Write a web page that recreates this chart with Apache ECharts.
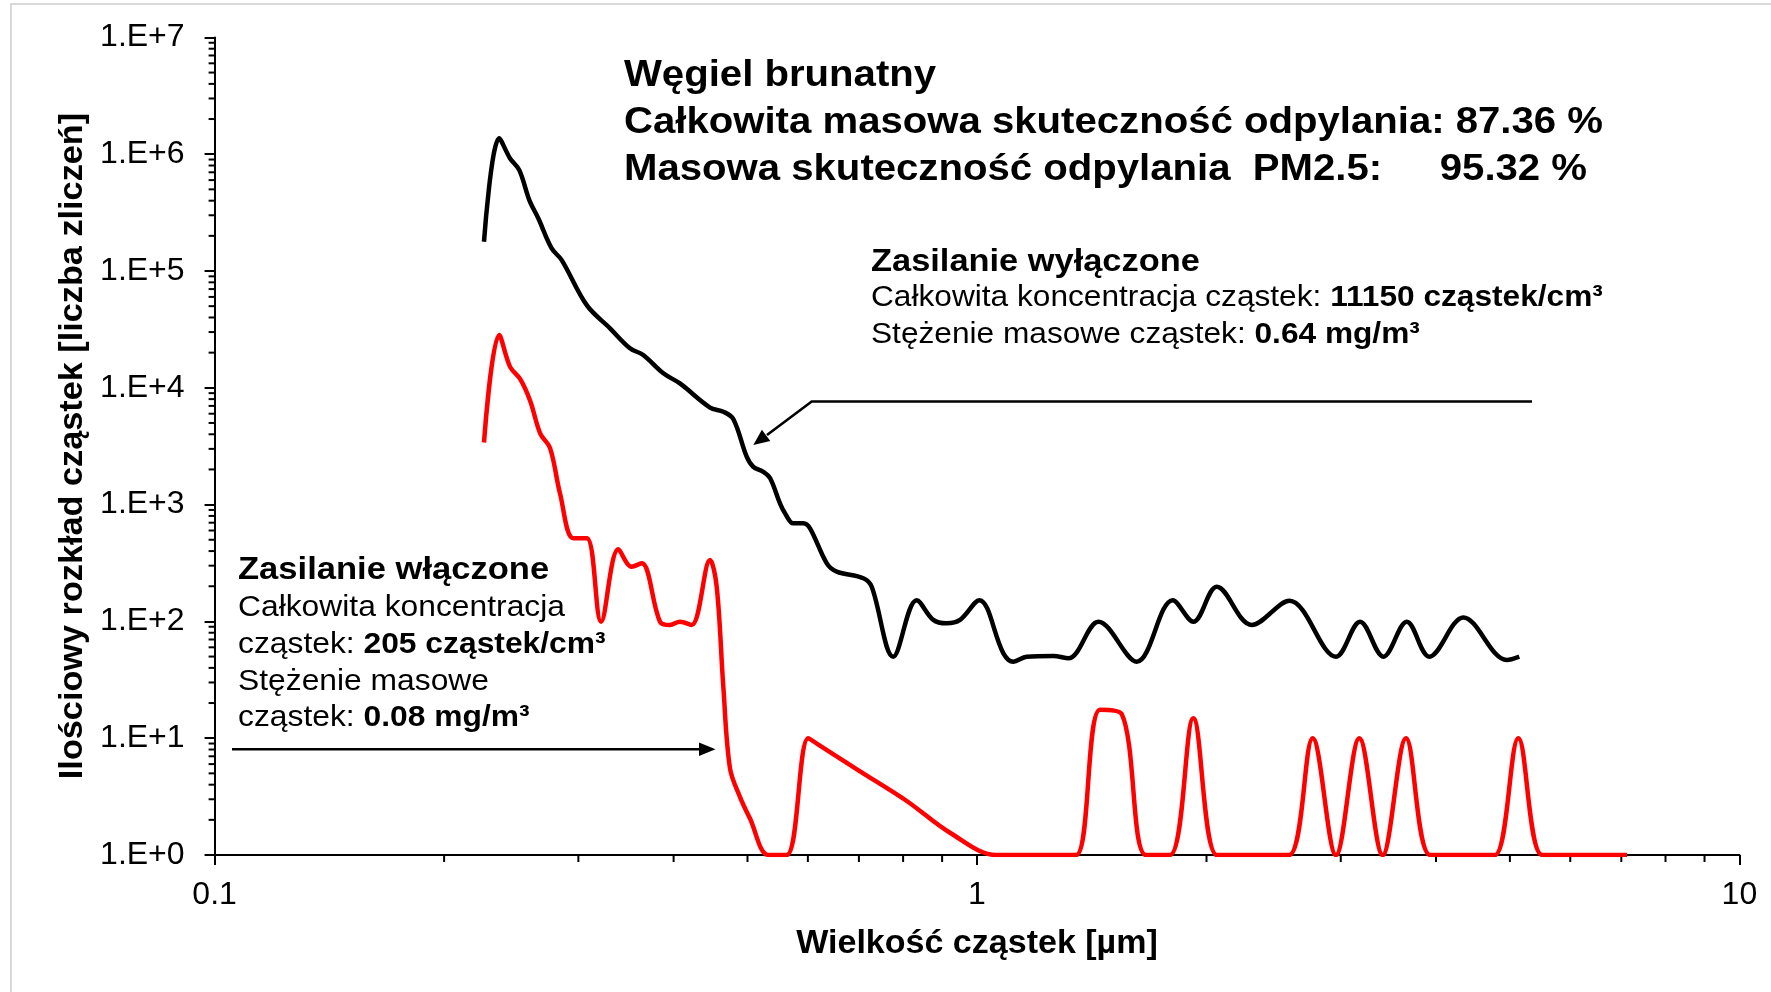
<!DOCTYPE html>
<html><head><meta charset="utf-8">
<script src="https://cdn.jsdelivr.net/npm/echarts@6/dist/echarts.min.js"></script>
<style>html,body{margin:0;padding:0;background:#fff}#c{width:1771px;height:992px}</style>
</head><body><div id="c"></div>
<script>
// ---- data ----
const blackSize = [0.2256,0.2362,0.2441,0.2510,0.2587,0.2658,0.2768,0.2853,0.3077,0.3301,0.3506,0.3649,0.3878,0.4077,0.4465,0.4648,0.4790,0.4988,0.5087,0.5244,0.5354,0.5515,0.5600,0.5741,0.5917,0.6039,0.6353,0.6546,0.7094,0.7276,0.7765,0.8335,0.8763,0.9127,0.9499,1.007,1.083,1.116,1.162,1.259,1.318,1.443,1.620,1.806,1.922,2.063,2.293,2.569,2.957,3.180,3.412,3.662,3.920,4.344,4.953,5.144];
const blackCount = [1.78e5,1.37e6,9.2e5,7.3e5,4.05e5,2.83e5,1.56e5,1.24e5,5.1e4,3.23e4,2.18e4,1.91e4,1.33e4,1.09e4,6780,6240,5410,2570,2110,1910,1680,1026,843,692,692,627,314,267,234,198,49.9,152,103,96.3,103,152,53.3,45.2,49.9,50.6,48.3,99.4,45.2,152,99.4,198,93.1,150,49.9,99.4,49.9,99.4,49.9,108,46.7,49.9];
const redSize = [0.2256,0.2362,0.2441,0.2516,0.2594,0.2673,0.2755,0.2838,0.2955,0.3078,0.3213,0.3385,0.3524,0.3633,0.3839,0.3957,0.4077,0.4224,0.4465,0.4556,0.4648,0.4743,0.4887,0.5036,0.5326,0.5628,0.6008,0.6200,0.7024,0.8088,0.9217,1.061,1.156,1.259,1.349,1.450,1.549,1.666,1.791,1.922,2.064,2.213,2.372,2.566,2.756,2.957,3.173,3.405,3.654,3.929,4.211,4.513,4.779,5.129,5.510,5.906,6.368,7.122];
const redCount = [3400,2.83e4,1.51e4,1.19e4,7710,4080,3030,1250,515,515,99.4,414,294,314,99.4,93.1,99.4,93.1,335,198,27.6,5.5,3.15,2.06,1,1,10,8.76,5.2,2.9,1.55,1,1,1,1,17.5,16,1,1,14.8,1,1,1,1,10,1,10,1,10,1,1,1,1,10,1,1,1,1];
const xTickLabels = ['0.1','1','10'];
const yTickLabels = ['1.E+0','1.E+1','1.E+2','1.E+3','1.E+4','1.E+5','1.E+6','1.E+7'];
const xMinorTicks = [0.2,0.3,0.4,0.5,0.6,0.7,0.8,0.9,2,3,4,5,6,7,8,9];
const yMinorMantissa = [2,3,4,5,6,7,8,9];
const yMinorTicks = [];
for (let e = 0; e < 7; e++) yMinorMantissa.forEach(m => yMinorTicks.push(m * Math.pow(10, e)));

const FF = '"Liberation Sans", Arial, sans-serif';
const chart = echarts.init(document.getElementById('c'), null, {renderer: 'canvas'});

function txt(x, y, text, size, bold, sx, align, rot) {
  return {type: 'text', x: x, y: y, scaleX: sx || 1, rotation: rot || 0, silent: true, z: 10,
    style: {text: text, fill: '#000', fontSize: size, fontWeight: bold ? 'bold' : 'normal', fontFamily: FF,
      align: align || 'left', verticalAlign: 'middle'}};
}
function rtxt(x, y, text, size, sx) {
  return {type: 'text', x: x, y: y, scaleX: sx, silent: true, z: 10,
    style: {text: text, fill: '#000', fontSize: size, fontFamily: FF, align: 'left', verticalAlign: 'middle',
      rich: {n: {fontSize: size, fontFamily: FF, fontWeight: 'normal', fill: '#000'},
             b: {fontSize: size, fontFamily: FF, fontWeight: 'bold', fill: '#000'}}}};
}

const tickRender = (dx, dy) => (params, api) => {
  const p = api.coord([api.value(0), api.value(1)]);
  return {type: 'line', shape: {x1: p[0], y1: p[1], x2: p[0] + dx, y2: p[1] + dy},
    style: {stroke: '#000', lineWidth: 2}};
};

const option = {
  animation: false,
  backgroundColor: '#fff',
  grid: {left: 214.6, right: 31.6, top: 37.4, bottom: 137, containLabel: false, outerBoundsMode: 'none'},
  xAxis: {
    type: 'log', logBase: 10, min: 0.1, max: 10, splitNumber: 2,
    axisLine: {show: true, onZero: false, lineStyle: {color: '#000', width: 2}},
    axisTick: {show: true, length: 10, inside: false, lineStyle: {color: '#000', width: 2}},
    minorTick: {show: false},
    splitLine: {show: false},
    axisLabel: {color: '#000', fontSize: 32, fontFamily: FF, margin: 24,
      formatter: v => xTickLabels[Math.round(Math.log10(v)) + 1]}
  },
  yAxis: {
    type: 'log', logBase: 10, min: 1, max: 1e7, splitNumber: 7,
    axisLine: {show: true, lineStyle: {color: '#000', width: 2}},
    axisTick: {show: true, length: 10, inside: false, lineStyle: {color: '#000', width: 2}},
    minorTick: {show: false},
    splitLine: {show: false},
    axisLabel: {color: '#000', fontSize: 32, fontFamily: FF, margin: 30,
      formatter: v => yTickLabels[Math.round(Math.log10(v))]}
  },
  series: [
    {type: 'custom', coordinateSystem: 'cartesian2d', silent: true, clip: false, z: 1,
      data: xMinorTicks.map(v => [v, 1]), renderItem: tickRender(0, 7)},
    {type: 'custom', coordinateSystem: 'cartesian2d', silent: true, clip: false, z: 1,
      data: yMinorTicks.map(v => [0.1, v]), renderItem: tickRender(-6, 0)},
    {type: 'line', name: 'Zasilanie wyłączone', data: blackSize.map((s, i) => [s, blackCount[i]]),
      smooth: 0.35, symbol: 'none', lineStyle: {color: '#000', width: 4.5}, z: 3},
    {type: 'line', name: 'Zasilanie włączone', data: redSize.map((s, i) => [s, redCount[i]]),
      smooth: 0.35, symbol: 'none', lineStyle: {color: '#ff0000', width: 4.5}, z: 4}
  ],
  graphic: [
    {type: 'polyline', silent: true, z: 0, shape: {points: [[11, 1000], [11, 4], [1780, 4]]},
      style: {stroke: '#d9d9d9', lineWidth: 2, fill: null}},
    // axis titles
    txt(977, 943.7, 'Wielkość cząstek [µm]', 32.5, true, 1.047, 'center'),
    txt(73, 446, 'Ilościowy rozkład cząstek [liczba zliczeń]', 32.5, true, 1.054, 'center', Math.PI / 2),
    // top block
    txt(624, 76, 'Węgiel brunatny', 37.5, true, 1.07),
    txt(624, 123, 'Całkowita masowa skuteczność odpylania: 87.36 %', 37.5, true, 1.07),
    txt(624, 170, 'Masowa skuteczność odpylania  PM2.5:', 37.5, true, 1.07),
    txt(1587, 170, '95.32 %', 37.5, true, 1.07, 'right'),
    // right annotation
    txt(871, 262.2, 'Zasilanie wyłączone', 32, true, 1.075),
    rtxt(871, 297.9, '{n|Całkowita koncentracja cząstek: }{b|11150 cząstek/cm³}', 30, 1.055),
    rtxt(871, 334.6, '{n|Stężenie masowe cząstek: }{b|0.64 mg/m³}', 30, 1.055),
    // left annotation
    txt(238, 570.6, 'Zasilanie włączone', 32, true, 1.08),
    txt(238, 607.9, 'Całkowita koncentracja', 30, false, 1.06),
    rtxt(238, 644.6, '{n|cząstek: }{b|205 cząstek/cm³}', 30, 1.06),
    txt(238, 681.3, 'Stężenie masowe', 30, false, 1.06),
    rtxt(238, 717.9, '{n|cząstek: }{b|0.08 mg/m³}', 30, 1.06),
    // arrows
    {type: 'polyline', silent: true, z: 10, shape: {points: [[232, 749.3], [703, 749.3]]},
      style: {stroke: '#000', lineWidth: 2.6, fill: null}},
    {type: 'polygon', silent: true, z: 10, shape: {points: [[715.5, 749.3], [699, 742.5], [699, 756.1]]},
      style: {fill: '#000'}},
    {type: 'polyline', silent: true, z: 10, shape: {points: [[1532, 401.5], [811.7, 401.5], [767, 435]]},
      style: {stroke: '#000', lineWidth: 2.6, fill: null, lineJoin: 'miter'}},
    {type: 'polygon', silent: true, z: 10, shape: {points: [[753.3, 445], [770.3, 441.1], [761.9, 429.8]]},
      style: {fill: '#000'}}
  ]
};
chart.setOption(option);
</script></body></html>
